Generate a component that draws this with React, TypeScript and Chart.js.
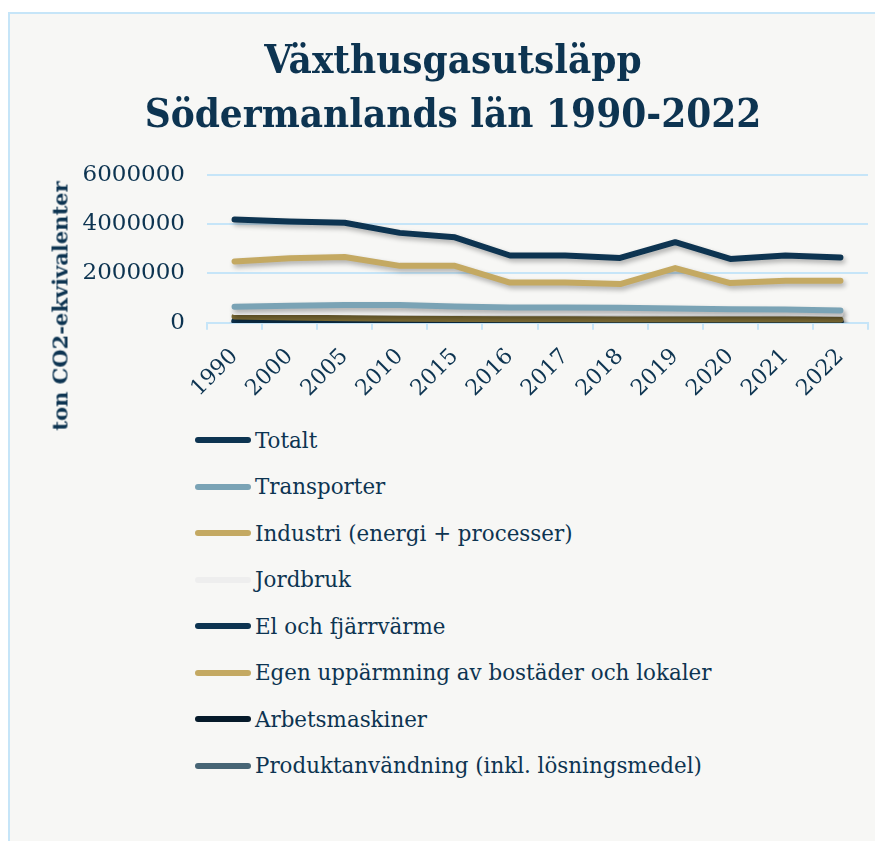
import React, { useEffect, useRef } from 'react';
import { Chart, registerables } from 'chart.js';

Chart.register(...registerables);

const years = ['1990', '2000', '2005', '2010', '2015', '2016', '2017', '2018', '2019', '2020', '2021', '2022'];
const totalt = [4190000, 4110000, 4060000, 3650000, 3470000, 2730000, 2730000, 2630000, 3270000, 2590000, 2730000, 2650000];
const transporter = [650000, 690000, 720000, 720000, 660000, 620000, 620000, 610000, 580000, 550000, 540000, 500000];
const industri = [2490000, 2620000, 2670000, 2310000, 2310000, 1630000, 1630000, 1570000, 2220000, 1610000, 1710000, 1710000];
const jordbruk = [440000, 440000, 435000, 430000, 420000, 420000, 420000, 415000, 410000, 410000, 405000, 380000];
const elFjarrvarme = [80000, 70000, 60000, 55000, 50000, 45000, 45000, 40000, 40000, 35000, 35000, 30000];
const egenUppvarmning = [250000, 210000, 180000, 160000, 150000, 140000, 140000, 135000, 135000, 130000, 130000, 125000];
const arbetsmaskiner = [60000, 60000, 55000, 55000, 55000, 55000, 55000, 55000, 55000, 55000, 55000, 55000];
const produktanvandning = [10000, 10000, 10000, 10000, 10000, 10000, 10000, 10000, 10000, 10000, 10000, 10000];

const seriesNames = [
  'Totalt',
  'Transporter',
  'Industri (energi + processer)',
  'Jordbruk',
  'El och fjärrvärme',
  'Egen uppärmning av bostäder och lokaler',
  'Arbetsmaskiner',
  'Produktanvändning (inkl. lösningsmedel)',
];
const seriesValues = [totalt, transporter, industri, jordbruk, elFjarrvarme, egenUppvarmning, arbetsmaskiner, produktanvandning];
const lineColors = ['#0d3451', '#7aa3b5', '#c4a962', '#f2f2f2', '#0d3451', '#7b6a34', '#061a2a', '#476575'];
const legendColors = ['#0d3451', '#7aa3b5', '#c4a962', '#eeeeee', '#0d3451', '#c4a962', '#061a2a', '#476575'];
const drawOrder = [0, 1, 2, 3, 5, 4, 6, 7];

const yTicks = [0, 2000000, 4000000, 6000000];
const yTitle = 'ton CO2-ekvivalenter';

const TEXT = '#0d3451';
const GRID = '#c6e5f8';
const FONT = "'DejaVu Serif', serif";

const shadowPlugin = {
  id: 'lineShadow',
  beforeDatasetDraw(chart: any) {
    const ctx = chart.ctx;
    ctx.save();
    ctx.shadowColor = 'rgba(0,0,0,0.3)';
    ctx.shadowBlur = 5;
    ctx.shadowOffsetX = 2;
    ctx.shadowOffsetY = 3;
  },
  afterDatasetDraw(chart: any) {
    chart.ctx.restore();
  },
};

export default function App() {
  const canvasRef = useRef<HTMLCanvasElement | null>(null);

  useEffect(() => {
    if (!canvasRef.current) return;
    const chart = new Chart(canvasRef.current, {
      type: 'line',
      data: {
        labels: years,
        datasets: seriesNames.map((name, i) => ({
          label: name,
          data: seriesValues[i],
          order: drawOrder[i],
          borderColor: lineColors[i],
          backgroundColor: lineColors[i],
          borderWidth: 6,
          pointRadius: 0,
          tension: 0,
          borderCapStyle: 'round' as const,
          borderJoinStyle: 'round' as const,
          fill: false,
        })),
      },
      options: {
        animation: false,
        responsive: true,
        maintainAspectRatio: false,
        layout: { padding: { left: 28, right: 15, top: 0, bottom: 0 } },
        plugins: {
          legend: { display: false },
          tooltip: { enabled: false },
          title: {
            display: true,
            text: ['Växthusgasutsläpp', 'Södermanlands län 1990-2022'],
            color: TEXT,
            font: { family: "'DejaVu Serif Condensed', 'DejaVu Serif', serif", size: 40, weight: 'bold', lineHeight: 1.35 },
            padding: { top: 22, bottom: 31 },
          },
        },
        scales: {
          x: {
            offset: true,
            grid: { display: true, drawOnChartArea: false, color: GRID, lineWidth: 2, tickLength: 7, offset: true },
            border: { display: true, color: GRID, width: 2 },
            ticks: { color: TEXT, font: { family: FONT, size: 22 }, maxRotation: 45, minRotation: 45, padding: 14 },
          },
          y: {
            min: 0,
            max: 6000000,
            afterBuildTicks: (scale: any) => {
              scale.ticks = yTicks.map((v) => ({ value: v }));
            },
            afterFit: (scale: any) => {
              scale.width = 169;
            },
            grid: { color: GRID, lineWidth: 2, drawTicks: false },
            border: { display: false },
            ticks: {
              color: TEXT,
              font: { family: FONT, size: 23 },
              padding: 22,
              callback: (v: any) => String(v),
            },
          },
        },
      },
      plugins: [shadowPlugin],
    });
    return () => chart.destroy();
  }, []);

  return (
    <div
      style={{
        position: 'relative',
        marginTop: 4,
        width: 875,
        height: 829,
        boxSizing: 'border-box',
        background: '#f7f7f5',
        borderLeft: `2px solid ${GRID}`,
        borderTop: `2px solid ${GRID}`,
        overflow: 'hidden',
      }}
    >
      <div style={{ position: 'absolute', left: 0, top: 0, width: 873, height: 402 }}>
        <canvas ref={canvasRef} />
      </div>
      <div
        style={{
          position: 'absolute',
          left: 50,
          top: 292,
          width: 0,
          height: 0,
        }}
      >
        <div
          style={{
            position: 'absolute',
            left: 0,
            top: 0,
            transform: 'translate(-50%, -50%) rotate(-90deg)',
            fontFamily: FONT,
            fontWeight: 'bold',
            fontSize: 21,
            color: TEXT,
            whiteSpace: 'nowrap',
            lineHeight: 1,
          }}
        >
          {yTitle}
        </div>
      </div>
      <div style={{ position: 'absolute', left: 185, top: 403 }}>
        {seriesNames.map((name, i) => (
          <div key={name} style={{ display: 'flex', alignItems: 'center', height: 46.5 }}>
            <span
              style={{
                display: 'inline-block',
                width: 56,
                height: 6,
                borderRadius: 3,
                background: legendColors[i],
                marginRight: 4,
              }}
            />
            <span style={{ fontFamily: FONT, fontSize: 21.4, color: TEXT, whiteSpace: 'nowrap' }}>{name}</span>
          </div>
        ))}
      </div>
    </div>
  );
}
